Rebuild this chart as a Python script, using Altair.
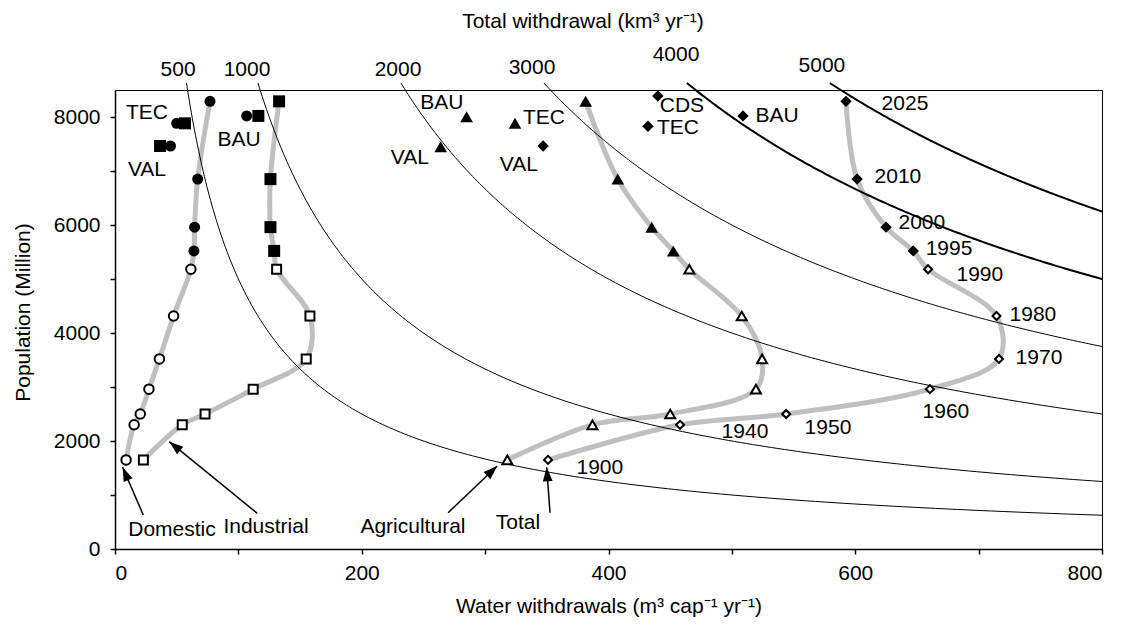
import math
import numpy as np
import pandas as pd
import altair as alt

FONT = "Liberation Sans"
FS = 21

# ---------------- data ----------------
years = [1900, 1940, 1950, 1960, 1970, 1980, 1990, 1995, 2000, 2010, 2025]
population = [1650, 2300, 2500, 2960, 3520, 4315, 5180, 5520, 5960, 6850, 8290]
domestic = [9, 15.5, 20.5, 27.5, 36, 47.5, 61.5, 64, 64.5, 67, 77]
industrial = [23, 54.5, 73, 112, 155, 158, 131, 129, 126, 126, 133]
agricultural = [318, 387, 450, 519.5, 524.5, 508, 465.5, 452.5, 435, 407.5, 381.5]
total = [351, 458, 544, 660.5, 716.5, 714.5, 659, 647, 625, 601.5, 592.5]

series_names = ["Domestic", "Industrial", "Agricultural", "Total"]
series_values = [domestic, industrial, agricultural, total]
series_shapes = ["circle", "square", "triangle-up", "diamond"]
open_sizes = [90, 81, 100, 64]
filled_sizes = [121, 144, 160, 130]

# 2025 scenario points
scen_series = ["Domestic", "Domestic", "Domestic", "Industrial", "Industrial", "Industrial",
               "Agricultural", "Agricultural", "Agricultural", "Total", "Total", "Total", "Total"]
scen_names = ["TEC", "VAL", "BAU", "TEC", "VAL", "BAU", "BAU", "TEC", "VAL", "CDS", "TEC", "VAL", "BAU"]
scen_x = [50, 45, 106.7, 56.7, 36.5, 116.2, 285, 324.2, 264, 440, 432, 347, 509]
scen_pop = [7883, 7463, 8020, 7883, 7463, 8020, 8006, 7883, 7450, 8389, 7830, 7463, 8020]

# scenario label texts and positions
scen_label_text = ["TEC", "VAL", "BAU", "BAU", "VAL", "TEC", "VAL", "CDS", "TEC", "BAU"]
scen_label_x = [25.9, 25.9, 100.5, 265, 239, 347.7, 327.4, 459.5, 456.3, 536.6]
scen_label_y = [8074, 7019, 7574, 8259, 7241, 7981, 7111, 8210, 7790, 8019]

# year labels of the Total curve
year_label_text = ["1900", "1940", "1950", "1960", "1970", "1980", "1990", "1995", "2000", "2010", "2025"]
year_label_x = [393, 510.6, 577.9, 673.5, 748.9, 744, 701, 676, 654, 634.6, 640.3]
year_label_y = [1500, 2167, 2241, 2537, 3537, 4333, 5074, 5556, 6037, 6889, 8241]

# series name annotations with arrows
ann_text = ["Domestic", "Industrial", "Agricultural", "Total"]
ann_x = [46.2, 122.4, 241.5, 326.6]
ann_y = [352, 407, 407, 481]
arrow_x0 = [22.9, 115.3, 270, 352.6]
arrow_y0 = [630, 661, 672, 672]
arrow_x1 = [6.2, 44, 309.8, 349.9]
arrow_y1 = [1513, 1987, 1537, 1513]

# total-withdrawal isolines (km3/yr) and their labels
iso_totals = [500, 1000, 2000, 3000, 4000, 5000]
iso_widths = [1, 1, 1, 1, 2, 2]
iso_label_x = [51.1, 107, 229.4, 338, 454.7, 573]
iso_label_y = [8870, 8870, 8870, 8907, 9148, 8944]
iso_top = 8630

top_title = "Total withdrawal (km³ yr⁻¹)"
top_title_x = 379.3
top_title_y = 9760

# ---------------- build tables ----------------
W, H = 987, 459
XMAX, YMAX = 800, 8500

rows = []
for name, vals in zip(series_names, series_values):
    for yr, p, v in zip(years, population, vals):
        rows.append({"series": name, "year": yr, "x": v, "y": p, "filled": yr >= 1995})
hist = pd.DataFrame(rows)

scen = pd.DataFrame({"series": scen_series, "name": scen_names, "x": scen_x, "y": scen_pop})

iso_rows = []
for K, w in zip(iso_totals, iso_widths):
    ylow = K * 1000.0 / XMAX
    ys = np.geomspace(iso_top, ylow, 200)
    for i, yv in enumerate(ys):
        iso_rows.append({"K": K, "i": i, "x": K * 1000.0 / yv, "y": yv, "w": w})
iso = pd.DataFrame(iso_rows)

iso_lab = pd.DataFrame({"t": [str(k) for k in iso_totals], "x": iso_label_x, "y": iso_label_y})
scen_lab = pd.DataFrame({"t": scen_label_text, "x": scen_label_x, "y": scen_label_y})
year_lab = pd.DataFrame({"t": year_label_text, "x": year_label_x, "y": year_label_y})
ann = pd.DataFrame({"t": ann_text, "x": ann_x, "y": ann_y})
title_df = pd.DataFrame({"t": [top_title], "x": [top_title_x], "y": [top_title_y]})

sx, sy = W / XMAX, H / YMAX
angles = []
for bx, by, tx, ty in zip(arrow_x0, arrow_y0, arrow_x1, arrow_y1):
    dxp = (tx - bx) * sx
    dyp = -(ty - by) * sy
    angles.append((math.degrees(math.atan2(dxp, -dyp)) + 360) % 360)
arrows = pd.DataFrame({"x": arrow_x0, "y": arrow_y0, "x2": arrow_x1, "y2": arrow_y1, "angle": angles})

# ---------------- encodings ----------------
xscale = alt.Scale(domain=[0, XMAX], nice=False, zero=True)
yscale = alt.Scale(domain=[0, YMAX], nice=False, zero=True)

xaxis = alt.Axis(
    values=list(range(0, 801, 100)), format="d",
    labelExpr="datum.value % 200 == 0 ? datum.label : ''",
    grid=False, tickSize=5, tickColor="black", tickWidth=1.5,
    domainColor="black", domainWidth=1.5,
    labelFont=FONT, labelFontSize=FS, labelColor="black", labelPadding=8,
    title="Water withdrawals (m³ cap⁻¹ yr⁻¹)", titleFont=FONT, titleFontSize=FS,
    titleFontWeight="normal", titleColor="black", titleX=W / 2, titleY=57,
    titleBaseline="middle", titleAlign="center",
)
yaxis = alt.Axis(
    values=list(range(0, 8001, 1000)), format="d",
    labelExpr="datum.value % 2000 == 0 ? datum.label : ''",
    grid=False, tickSize=5, tickColor="black", tickWidth=1.5,
    domainColor="black", domainWidth=1.5,
    labelFont=FONT, labelFontSize=FS, labelColor="black", labelPadding=10,
    title="Population (Million)", titleFont=FONT, titleFontSize=FS,
    titleFontWeight="normal", titleColor="black", titleX=-92, titleY=222,
    titleAngle=270, titleBaseline="middle", titleAlign="center",
)


def X(field="x"):
    return alt.X(f"{field}:Q", scale=xscale, axis=xaxis)


def Y(field="y"):
    return alt.Y(f"{field}:Q", scale=yscale, axis=yaxis)


layers = []

# gray smoothed trajectories
layers.append(
    alt.Chart(hist).mark_line(color="#bfbfbf", strokeWidth=5, interpolate="catmull-rom", clip=False)
    .encode(x=X(), y=Y(), detail="series:N", order=alt.Order("year:Q"))
)

# isolines
layers.append(
    alt.Chart(iso).mark_line(color="black", clip=False)
    .encode(x=X(), y=Y(), detail="K:N", order=alt.Order("i:Q"),
            strokeWidth=alt.StrokeWidth("w:Q", scale=None))
)

# markers
for name, shape, osz, fsz in zip(series_names, series_shapes, open_sizes, filled_sizes):
    h_open = hist[(hist.series == name) & (~hist.filled)]
    h_fill = hist[(hist.series == name) & (hist.filled)]
    s_fill = scen[scen.series == name]
    filled_df = pd.concat([h_fill[["x", "y"]], s_fill[["x", "y"]]], ignore_index=True)
    layers.append(
        alt.Chart(h_open).mark_point(shape=shape, size=osz, filled=True, fill="white",
                                     stroke="black", strokeWidth=2, opacity=1, clip=False)
        .encode(x=X(), y=Y())
    )
    layers.append(
        alt.Chart(filled_df).mark_point(shape=shape, size=fsz, filled=True, fill="black",
                                        strokeWidth=0, opacity=1, clip=False)
        .encode(x=X(), y=Y())
    )

# arrows
layers.append(
    alt.Chart(arrows).mark_rule(color="black", strokeWidth=1.5, clip=False)
    .encode(x=X(), y=Y(), x2="x2:Q", y2="y2:Q")
)
layers.append(
    alt.Chart(arrows).mark_point(shape="M0,0L-0.7,2L0.7,2Z", size=196, filled=True,
                                 fill="black", strokeWidth=0, opacity=1, clip=False)
    .encode(x=X("x2"), y=Y("y2"), angle=alt.Angle("angle:Q", scale=None))
)

# texts
for df in [iso_lab, scen_lab, year_lab, ann, title_df]:
    layers.append(
        alt.Chart(df).mark_text(font=FONT, fontSize=FS, color="black", align="center",
                                baseline="middle", clip=False)
        .encode(x=X(), y=Y(), text="t:N")
    )

chart = (
    alt.layer(*layers)
    .properties(
        width=W, height=H,
        autosize=alt.AutoSizeParams(type="none"),
        padding={"left": 107, "top": 82, "right": 15, "bottom": 68},
        background="white",
    )
    .configure_view(stroke="black", strokeWidth=1)
)

chart.save("out.html", embed_options={"renderer": "svg", "actions": False})
